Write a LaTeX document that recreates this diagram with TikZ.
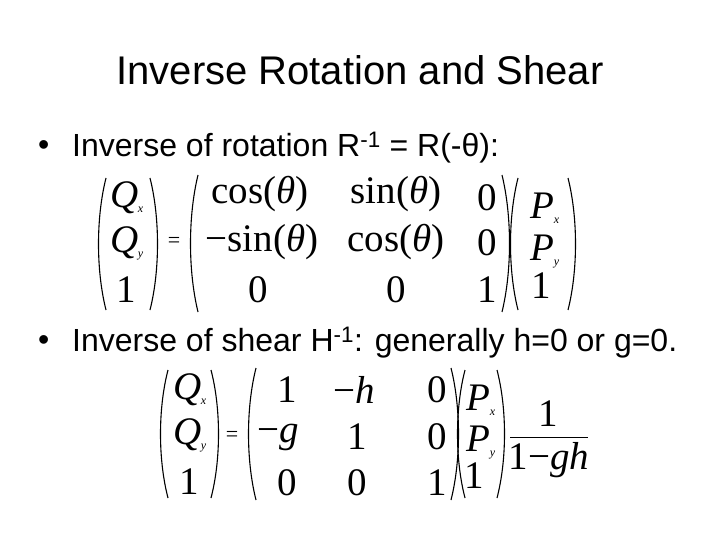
\documentclass[tikz,border=0pt]{standalone}
\usepackage{fontspec}
\setmainfont{Liberation Serif}
\newfontfamily\arialf{Liberation Sans}
\begin{document}
\begin{tikzpicture}[x=1pt,y=-1pt,
  ttl/.style={font=\arialf\fontsize{40}{44}\selectfont},
  bul/.style={font=\arialf\fontsize{32}{36}\selectfont,anchor=west,inner sep=0},
  ent/.style={font=\fontsize{39}{42}\selectfont,inner sep=0},
  sm/.style={font=\fontsize{22}{24}\selectfont,inner sep=0},
  par/.style={line width=1.1pt}]
\useasboundingbox (0,0) rectangle (720,540);
\fill[white] (0,0) rectangle (720,540);
\newcommand\lp[3]{\draw[par] ({#1+6},{#2}) .. controls ({#1-4},{#2+0.3*(#3-#2)}) and ({#1-4},{#2+0.7*(#3-#2)}) .. ({#1+6},{#3});}
\newcommand\rp[3]{\draw[par] ({#1-6},{#2}) .. controls ({#1+4},{#2+0.3*(#3-#2)}) and ({#1+4},{#2+0.7*(#3-#2)}) .. ({#1-6},{#3});}
\node[ttl] (title) at (360,70) {Inverse Rotation and Shear};
\node[bul] (d1) at (38,148) {\textbullet};
\node[bul] (b1) at (72,148) {Inverse of rotation R\textsuperscript{-1} = R(-θ):};
\node[bul] (d2) at (38,343) {\textbullet};
\node[bul] (b2) at (72,343) {Inverse of shear H\textsuperscript{-1}: generally h=0 or g=0.};
% equation 1
\lp{100}{178}{310}\rp{156}{178}{310}
\node[ent] (q1) at (127,198) {\itshape Q\kern-1pt\raisebox{-5pt}{\fontsize{12}{12}\selectfont x}};
\node[ent] (q2) at (127,243) {\itshape Q\kern-1pt\raisebox{-5pt}{\fontsize{12}{12}\selectfont y}};
\node[ent] (q3) at (126,290) {1};
\node[sm] (eq1) at (174,242) {=};
\lp{192}{175}{312}\rp{508}{175}{312}
\node[ent] (a11) at (260,194) {cos(\itshape θ\upshape)};
\node[ent] (a12) at (396,194) {sin(\itshape θ\upshape)};
\node[ent] (a13) at (487,198) {0};
\node[ent] (a21) at (262,242) {−sin(\itshape θ\upshape)};
\node[ent] (a22) at (396,242) {cos(\itshape θ\upshape)};
\node[ent] (a23) at (487,243) {0};
\node[ent] (a31) at (258,290) {0};
\node[ent] (a32) at (396,290) {0};
\node[ent] (a33) at (487,290) {1};
\lp{512}{178}{310}\rp{574}{178}{310}
\node[ent] (p1) at (545,208) {\itshape P\kern-1pt\raisebox{-5pt}{\fontsize{12}{12}\selectfont x}};
\node[ent] (p2) at (545,252) {\itshape P\kern-1pt\raisebox{-5pt}{\fontsize{12}{12}\selectfont y}};
\node[ent] (p3) at (541,286) {1};
% equation 2
\lp{162}{370}{498}\rp{217}{370}{498}
\node[ent] (r1) at (190,390) {\itshape Q\kern-1pt\raisebox{-5pt}{\fontsize{12}{12}\selectfont x}};
\node[ent] (r2) at (190,435) {\itshape Q\kern-1pt\raisebox{-5pt}{\fontsize{12}{12}\selectfont y}};
\node[ent] (r3) at (189,482) {1};
\node[sm] (eq2) at (232,436) {=};
\lp{250}{368}{500}\rp{457}{368}{500}
\node[ent] (m11) at (287,390) {1};
\node[ent] (m12) at (354,390) {−\itshape h};
\node[ent] (m13) at (437,390) {0};
\node[ent] (m21) at (278,437) {−\itshape g};
\node[ent] (m22) at (357,437) {1};
\node[ent] (m23) at (437,437) {0};
\node[ent] (m31) at (287,483) {0};
\node[ent] (m32) at (357,483) {0};
\node[ent] (m33) at (437,483) {1};
\lp{459}{370}{498}\rp{503}{370}{498}
\node[ent] (s1) at (481,400) {\itshape P\kern-1pt\raisebox{-5pt}{\fontsize{12}{12}\selectfont x}};
\node[ent] (s2) at (481,443) {\itshape P\kern-1pt\raisebox{-5pt}{\fontsize{12}{12}\selectfont y}};
\node[ent] (s3) at (474,476) {1};
\node[ent] (fn) at (548,414) {1};
\coordinate (fl) at (510,437); \coordinate (fr) at (588,437);
\draw[line width=0.9pt] (fl) -- (fr);
\node[ent] (fd) at (549,460) {1−\itshape gh};
\end{tikzpicture}
\end{document}
